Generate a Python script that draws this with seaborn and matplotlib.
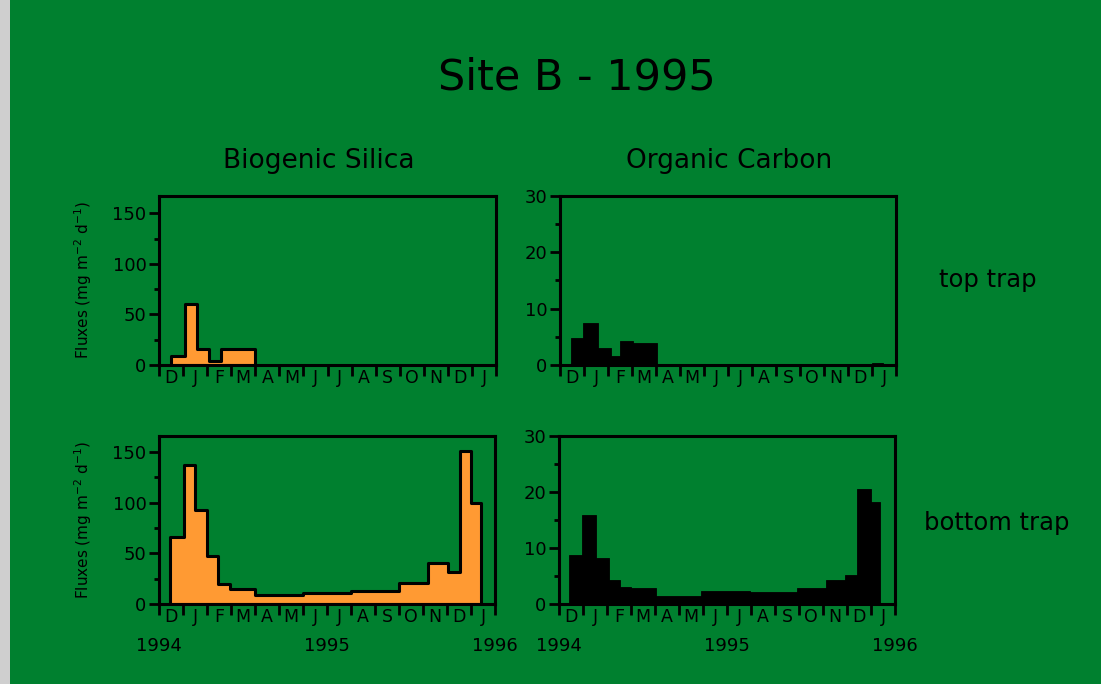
import numpy as np
import pandas as pd
import matplotlib
matplotlib.use("Agg")
import matplotlib.pyplot as plt
from matplotlib.patches import Rectangle
import seaborn as sns

# ---------------- data (x in months from 1 Dec 1994) ----------------
months = ["D", "J", "F", "M", "A", "M", "J", "J", "A", "S", "O", "N", "D", "J"]
years = ["1994", "1995", "1996"]

# Biogenic silica, top trap
bsi_top_edges = [0.49, 1.07, 1.58, 2.07, 2.57, 4.0]
bsi_top_vals = [9, 60, 15.5, 4, 15.8]

# Organic carbon, top trap
oc_top_edges = [0.44, 0.97, 1.6, 2.13, 2.5, 3.06, 4.03, 13.0, 13.44]
oc_top_vals = [4.8, 7.5, 3.1, 1.6, 4.3, 3.9, 0, 0.3]

# Biogenic silica, bottom trap
bsi_bot_edges = [0.45, 1.03, 1.49, 2.01, 2.46, 2.94, 3.99, 5.98, 8.01, 10.0,
                 11.21, 12.05, 12.54, 13.0, 13.42]
bsi_bot_vals = [66, 137, 93, 47, 20, 15, 9, 11, 13, 21, 41, 32, 151, 100]

# Organic carbon, bottom trap
oc_bot_edges = [0.40, 0.96, 1.54, 2.07, 2.53, 3.0, 4.04, 5.91, 7.96, 9.91,
                11.11, 11.92, 12.40, 13.0, 13.38]
oc_bot_vals = [8.8, 15.9, 8.3, 4.3, 3.1, 2.8, 1.5, 2.3, 2.1, 2.8, 4.3, 5.1, 20.6, 18.2]

# ---------------- style ----------------
BG = "#00802f"
ORANGE = "#ff9a33"
sns.set_theme(style="ticks")
plt.rcParams["font.family"] = ["DejaVu Sans"]
plt.rcParams["axes.facecolor"] = BG
plt.rcParams["figure.facecolor"] = BG
plt.rcParams["axes.edgecolor"] = "black"
plt.rcParams["axes.labelcolor"] = "black"
plt.rcParams["text.color"] = "black"
plt.rcParams["xtick.color"] = "black"
plt.rcParams["ytick.color"] = "black"

fig = plt.figure(figsize=(11.01, 6.84), dpi=100)
fig.patches.append(Rectangle((0, 0), 10 / 1101, 1, transform=fig.transFigure,
                             facecolor="#cfcfcf", edgecolor="none", zorder=0))

W, H = 1101, 684
def ax_at(l, r, t, b):
    return fig.add_axes([l / W, 1 - b / H, (r - l) / W, (b - t) / H])

ax_tl = ax_at(159, 496, 196, 365)
ax_tr = ax_at(560, 896, 196, 365)
ax_bl = ax_at(159, 495, 436, 604)
ax_br = ax_at(559, 895, 436, 604)


def centers(edges):
    e = np.asarray(edges)
    return (e[:-1] + e[1:]) / 2


def draw(ax, edges, vals, kind):
    df = pd.DataFrame({"t": centers(edges), "flux": vals})
    if kind == "bsi":
        sns.histplot(data=df, x="t", weights="flux", bins=edges, element="step",
                     fill=True, color=ORANGE, alpha=1, edgecolor="black",
                     linewidth=2.2, ax=ax)
    else:
        sns.histplot(data=df, x="t", weights="flux", bins=edges, element="bars",
                     fill=True, color="black", alpha=1, edgecolor="black",
                     linewidth=0.6, ax=ax)


def style(ax, ymax, major, minor, show_ylabel, show_years):
    ax.set_xlim(0, 14)
    ax.set_ylim(0, ymax)
    for s in ax.spines.values():
        s.set_linewidth(2.2)
        s.set_visible(True)
    ax.set_yticks(major)
    ax.set_yticks(minor, minor=True)
    ax.tick_params(axis="y", which="major", direction="out", length=7, width=2,
                   labelsize=13, pad=2)
    ax.tick_params(axis="y", which="minor", direction="out", length=3.5, width=2)
    ax.set_xticks(np.arange(0, 15))
    ax.set_xticklabels([])
    ax.set_xticks(np.arange(0.5, 14), minor=True)
    ax.set_xticklabels(months, minor=True)
    ax.tick_params(axis="x", which="major", direction="out", length=8, width=2)
    ax.tick_params(axis="x", which="minor", length=0, labelsize=12.5, pad=3)
    ax.set_xlabel("")
    if show_ylabel:
        ax.set_ylabel("Fluxes (mg m$^{-2}$ d$^{-1}$)", fontsize=11, labelpad=13)
    else:
        ax.set_ylabel("")
    if show_years:
        for xv, lab in zip([0, 7, 14], years):
            ax.text(xv, -0.25, lab, transform=ax.get_xaxis_transform(),
                    ha="center", va="center", fontsize=13)
    ax.grid(False)


draw(ax_tl, bsi_top_edges, bsi_top_vals, "bsi")
draw(ax_bl, bsi_bot_edges, bsi_bot_vals, "bsi")
draw(ax_tr, oc_top_edges, oc_top_vals, "oc")
draw(ax_br, oc_bot_edges, oc_bot_vals, "oc")

style(ax_tl, 167, [0, 50, 100, 150], [25, 75, 125], True, False)
style(ax_bl, 166, [0, 50, 100, 150], [25, 75, 125], True, True)
style(ax_tr, 30, [0, 10, 20, 30], [5, 15, 25], False, False)
style(ax_br, 30, [0, 10, 20, 30], [5, 15, 25], False, True)

fig.text(577 / W, 1 - 77 / H, "Site B - 1995", ha="center", va="center", fontsize=31)
fig.text(319 / W, 1 - 161 / H, "Biogenic Silica", ha="center", va="center", fontsize=19)
fig.text(729 / W, 1 - 161 / H, "Organic Carbon", ha="center", va="center", fontsize=19)
fig.text(988 / W, 1 - 280 / H, "top trap", ha="center", va="center", fontsize=17.5)
fig.text(997 / W, 1 - 523 / H, "bottom trap", ha="center", va="center", fontsize=17.5)

fig.savefig("out.png", dpi=100, facecolor=BG)
